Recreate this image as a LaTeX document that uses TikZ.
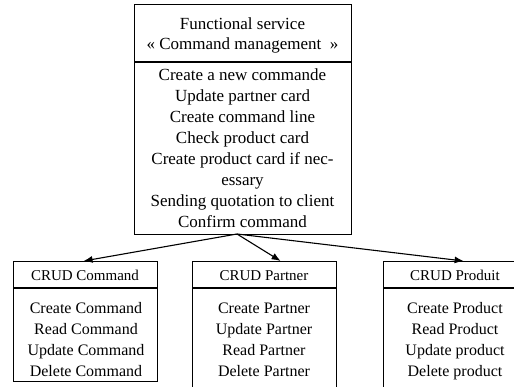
\documentclass[tikz,border=0pt]{standalone}
\usepackage{fontspec}
\setmainfont{Liberation Serif}
\usetikzlibrary{arrows.meta}
\begin{document}
\begin{tikzpicture}[x=1pt,y=-1pt,
  box/.style={draw=black, line width=1.2pt, fill=white, inner sep=0pt, anchor=north west},
  bigtxt/.style={align=center, inner sep=0pt, font=\fontsize{17}{21}\selectfont},
  headtxt/.style={align=center, inner sep=0pt, font=\fontsize{15}{20}\selectfont},
  itemtxt/.style={align=center, inner sep=0pt, font=\fontsize{16}{21}\selectfont},
  arr/.style={line width=1.1pt, -{Latex[length=9pt,width=7pt]}}
]
\useasboundingbox (0,0) rectangle (514,387);
\clip (0,0) rectangle (514,387);

% service box
\node[box, minimum width=217pt, minimum height=230pt] (svc) at (134,4) {};
\draw[line width=1.2pt] (svc.west |- 0,62) -- (svc.east |- 0,62);
\node[bigtxt, font=\fontsize{17}{20}\selectfont] (svchead) at (242.5,36)
  {\strut Functional service\\ « Command management~~»\strut};
\node[bigtxt] (svcbody) at (242.5,149.5)
  {\strut Create a new commande\\ Update partner card\\ Create command line\\
   Check product card\\ Create product card if nec-\\ essary\\
   Sending quotation to client\\ Confirm command\strut};

% CRUD boxes
\node[box, minimum width=144pt, minimum height=120pt] (cmd) at (13,261) {};
\node[box, minimum width=144pt, minimum height=140pt] (ptn) at (192,261) {};
\node[box, minimum width=144pt, minimum height=140pt] (prd) at (383,261) {};
\foreach \b in {cmd,ptn,prd}
  \draw[line width=1.2pt] (\b.west |- 0,288) -- (\b.east |- 0,288);

\node[headtxt] (cmdhead) at (85,277) {\strut CRUD Command};
\node[itemtxt] (cmdbody) at (86,340.5)
  {\strut Create Command\\ Read Command\\ Update Command\\ Delete Command\strut};

\node[headtxt] (ptnhead) at (264,277) {\strut CRUD Partner};
\node[itemtxt] (ptnbody) at (264,340.5)
  {\strut Create Partner\\ Update Partner\\ Read Partner\\ Delete Partner\strut};

\node[headtxt] (prdhead) at (455,277) {\strut CRUD Produit};
\node[itemtxt] (prdbody) at (455,340.5)
  {\strut Create Product\\ Read Product\\ Update product\\ Delete product\strut};

% connectors
\coordinate (src) at (237,234);
\draw[arr] (src) -- ([xshift=-2pt]cmd.north);
\draw[arr] (src) -- ([xshift=16pt]ptn.north);
\draw[arr] (src) -- ([xshift=8pt]prd.north);
\end{tikzpicture}
\end{document}
